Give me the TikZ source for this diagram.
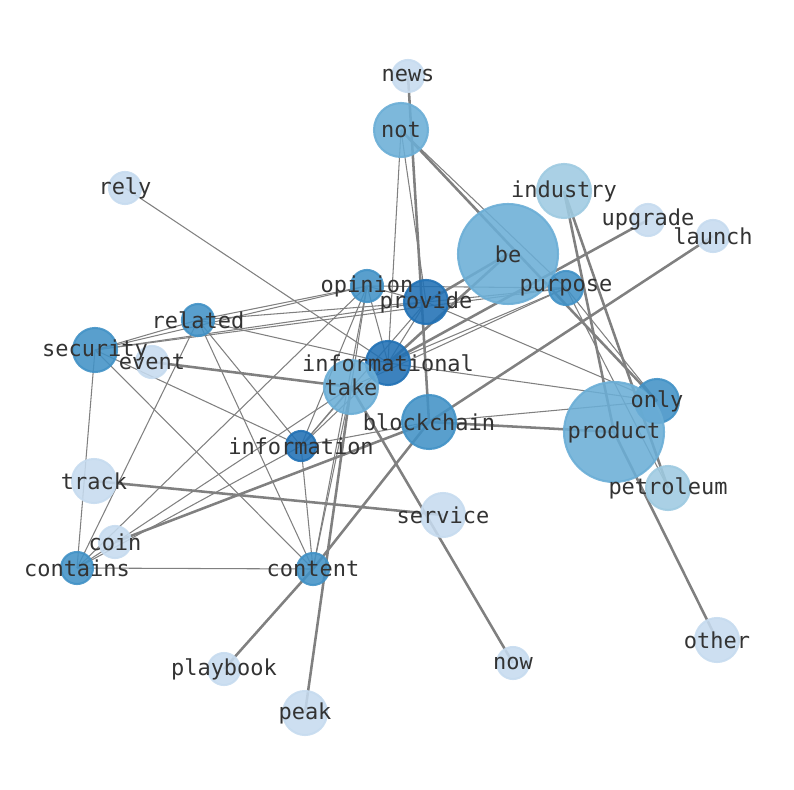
\documentclass[tikz,border=0pt]{standalone}
\usepackage{fontspec}
\newfontfamily\labelfont{DejaVu Sans Mono}
\definecolor{blueA}{RGB}{198,219,239}
\definecolor{blueB}{RGB}{158,202,225}
\definecolor{blueC}{RGB}{107,174,214}
\definecolor{blueD}{RGB}{66,146,198}
\definecolor{blueE}{RGB}{33,113,181}
\definecolor{edgegray}{RGB}{128,128,128}
\definecolor{textgray}{RGB}{51,51,51}
\pgfdeclarelayer{edges}
\pgfdeclarelayer{labels}
\pgfsetlayers{edges,main,labels}
\tikzset{
  blob/.style={circle, inner sep=0pt, line width=1.2pt, fill opacity=0.88, draw opacity=0.9},
  word/.style={font=\labelfont\fontsize{12.5}{14}\selectfont, text=textgray, inner sep=0pt},
  link/.style={draw=edgegray, line width=0.6pt},
  wide link/.style={draw=edgegray, line width=1.45pt}
}
\begin{document}
\begin{tikzpicture}[x=0.02cm, y=-0.02cm]
\useasboundingbox (0,0) rectangle (794,790);
% nodes: name / x / y / radius / colour
\foreach \n/\x/\y/\r/\c in {
  news/408/76/16/blueA, not/401/130/27/blueC, rely/125/188/16/blueA,
  industry/564/191/27/blueB, upgrade/648/220/16/blueA, launch/713/236/16/blueA,
  be/508/254/50/blueC, opinion/367/286/16/blueD, provide/426/302/22/blueE,
  purpose/566/288/17/blueD, related/198/320/16/blueD, security/95/350/22/blueD,
  event/152/362/16/blueA, informational/388/363/22/blueE, take/351/387/27/blueC,
  blockchain/429/422/27/blueD, only/657/401/22/blueD, product/614/432/50/blueC,
  information/301/446/15/blueE, track/94/481/22/blueA, service/443/515/22/blueA,
  petroleum/668/488/22/blueB, coin/115/542/16/blueA, contains/77/568/16/blueD,
  content/313/569/16/blueD, other/717/640/22/blueA, now/513/663/16/blueA,
  playbook/224/669/16/blueA, peak/305/713/22/blueA}
{
  \node[blob, minimum size=\r*0.04cm, fill=\c, draw=\c] (\n) at (\x,\y) {};
  \begin{pgfonlayer}{labels}
    \node[word] at (\n) {\n};
  \end{pgfonlayer}
}
\begin{pgfonlayer}{edges}
% heavy edges
\foreach \a/\b in {news/blockchain, not/only, be/provide, be/informational,
  upgrade/informational, launch/blockchain, blockchain/product, blockchain/coin,
  blockchain/content, industry/product, industry/petroleum, product/other,
  event/take, track/service, take/now, take/peak, content/playbook}
  \draw[wide link] (\a.center) -- (\b.center);
% light edges
\foreach \a/\b in {not/informational, not/provide, not/purpose, rely/informational,
  opinion/related, opinion/security, opinion/informational, opinion/take,
  opinion/information, opinion/content, opinion/contains, opinion/purpose,
  opinion/provide, provide/related, provide/security, provide/informational,
  provide/information, provide/purpose, provide/only, related/informational,
  related/information, related/content, related/contains, related/security,
  security/information, security/content, security/contains, security/purpose,
  informational/only, informational/purpose, informational/information,
  take/information, take/purpose, take/contains, take/content,
  information/blockchain, information/content, information/contains,
  contains/content, purpose/only, purpose/petroleum, blockchain/only}
  \draw[link] (\a.center) -- (\b.center);
\end{pgfonlayer}
\end{tikzpicture}
\end{document}
